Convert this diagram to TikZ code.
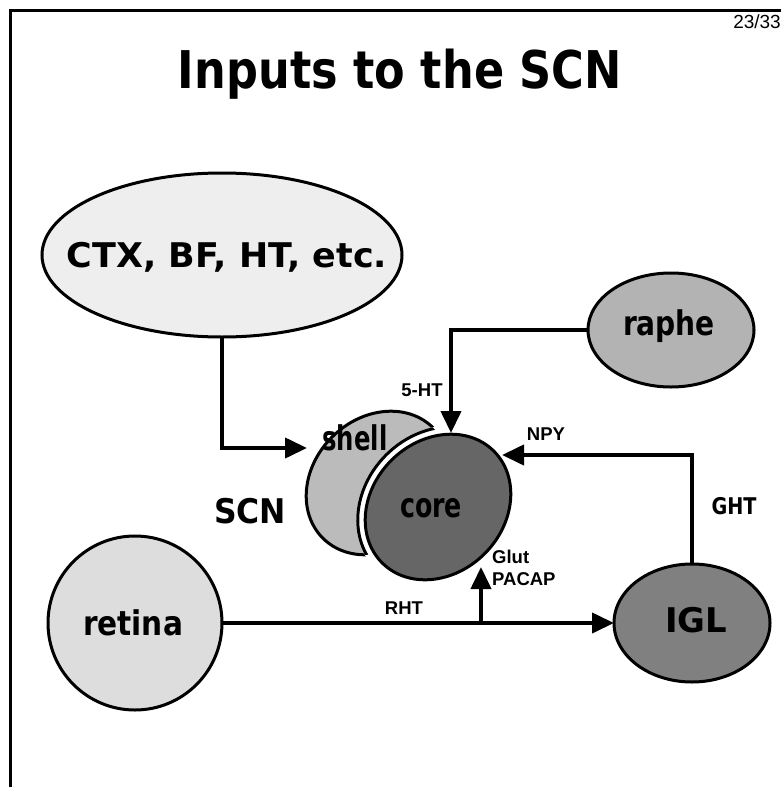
\documentclass[tikz,border=0pt]{standalone}
\usepackage{fontspec}
\usepackage{graphicx}
\setmainfont{Liberation Sans}
\newfontfamily\comic{DejaVu Sans}
\usetikzlibrary{arrows.meta}
\definecolor{ctxfill}{HTML}{EEEEEE}
\definecolor{retfill}{HTML}{DDDDDD}
\definecolor{raphefill}{HTML}{B3B3B3}
\definecolor{shellfill}{HTML}{BBBBBB}
\definecolor{corefill}{HTML}{666666}
\definecolor{iglfill}{HTML}{808080}
\newcommand{\fitw}[2]{\resizebox{#1pt}{\height}{#2}}
\tikzset{
  conn/.style={line width=4pt, -{Triangle[length=22pt,width=20pt]}},
  blob/.style={draw=black, line width=3pt},
  comictxt/.style={font=\comic\bfseries\fontsize{34}{34}\selectfont, inner sep=0pt, anchor=base},
  lbl/.style={font=\bfseries\fontsize{18.5}{18.5}\selectfont, inner sep=0pt, anchor=base},
}
\begin{document}
\begin{tikzpicture}[x=1pt,y=-1pt]
\useasboundingbox (0,0) rectangle (781,787);
% frame
\draw[line width=3pt] (10,787) -- (10,10) -- (781,10);
% title
\node[comictxt, font=\comic\bfseries\fontsize{52}{52}\selectfont] (title) at (400,88) {\fitw{444}{Inputs to the SCN}};
\node[font=\fontsize{19}{19}\selectfont, inner sep=0pt, anchor=base east] (page) at (781,28) {23/33};
% ellipses
\draw[blob, fill=ctxfill] (222,255) ellipse [x radius=180pt, y radius=82pt];
\coordinate (ctxb) at (222,337);
\draw[blob, fill=raphefill] (671,330) ellipse [x radius=83pt, y radius=57pt];
\coordinate (raphel) at (588,330);
\draw[blob, fill=retfill] (135,623) circle [radius=87pt];
\coordinate (retr) at (222,623);
\draw[blob, fill=iglfill] (692,623) ellipse [x radius=78pt, y radius=59pt];
\coordinate (iglt) at (692,564);
\coordinate (igll) at (614,623);
% SCN: shell and core
\draw[blob, fill=shellfill, shift={(378,483)}, rotate=45] (0,0) ellipse [x radius=78pt, y radius=65pt];
\fill[white, shift={(438,507)}, rotate=45] (0,0) ellipse [x radius=88pt, y radius=75pt];
\begin{scope}
  \clip[shift={(378,483)}, rotate=45] (0,0) ellipse [x radius=78pt, y radius=65pt];
  \draw[line width=3pt, shift={(438,507)}, rotate=45] (0,0) ellipse [x radius=86.5pt, y radius=73.5pt];
\end{scope}
\draw[blob, fill=corefill, shift={(438,507)}, rotate=45] (0,0) ellipse [x radius=79pt, y radius=66pt];
\coordinate (coret) at (451,433);
\coordinate (corer) at (502,455);
\coordinate (coreb) at (481,567);
\coordinate (shelll) at (307,448);
% texts in shapes
\node[comictxt] (ctx) at (227,267) {\fitw{320}{CTX, BF, HT, etc.}};
\node[comictxt] (raphe) at (669,335) {\fitw{92}{raphe}};
\node[comictxt] (retina) at (133,635) {\fitw{100}{retina}};
\node[comictxt] (igl) at (696,632) {\fitw{62}{IGL}};
\node[comictxt] (shell) at (355,450) {\fitw{65}{shell}};
\node[comictxt] (core) at (431,517) {\fitw{62}{core}};
\node[comictxt] (scn) at (250,523) {\fitw{72}{SCN}};
\node[comictxt, font=\comic\bfseries\fontsize{23}{23}\selectfont] (ght) at (734,514) {\fitw{45}{GHT}};
% connectors
\draw[conn] (ctxb) |- (shelll);
\draw[conn] (raphel) -| (coret);
\draw[conn] (iglt) |- (corer);
\coordinate (branch) at (481,623);
\draw[conn] (retr) -- (igll);
\draw[conn] (branch) -- (coreb);
% labels
\node[lbl] (l5ht) at (422,396) {5-HT};
\node[lbl] (lnpy) at (546,440) {NPY};
\node[lbl, anchor=base west] (lglut) at (492,563) {Glut};
\node[lbl, anchor=base west] (lpacap) at (492,585) {PACAP};
\node[lbl] (lrht) at (404,614) {RHT};
\end{tikzpicture}
\end{document}
